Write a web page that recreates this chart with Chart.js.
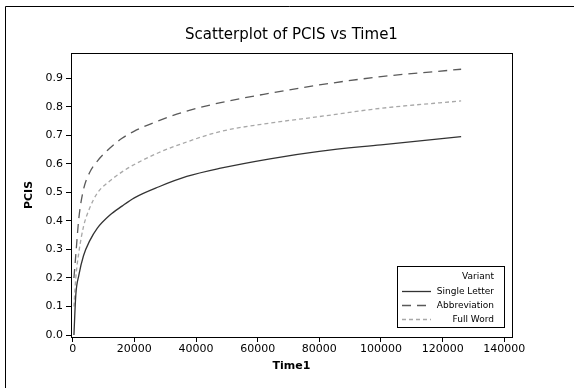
<!DOCTYPE html>
<html>
<head>
<meta charset="utf-8">
<script src="https://cdn.jsdelivr.net/npm/chart.js@4"></script>
<style>
  html, body { margin: 0; padding: 0; background: #fff; }
  #wrap { position: relative; width: 574px; height: 388px; }
</style>
</head>
<body>
<div id="wrap"><canvas id="myChart" width="574" height="388"></canvas></div>
<script>
// values
let time1 = [400, 1000, 2000, 3500, 5500, 8000, 12000, 16000, 20000, 28000, 37000, 48000, 64000, 80000, 100000, 126000];
let singleLetter = [0.0, 0.14, 0.21, 0.278, 0.33, 0.375, 0.42, 0.452, 0.481, 0.52, 0.556, 0.585, 0.618, 0.644, 0.667, 0.696];
let abbreviation = [0.2, 0.28, 0.41, 0.51, 0.57, 0.61, 0.655, 0.69, 0.715, 0.752, 0.785, 0.815, 0.848, 0.877, 0.906, 0.932];
let fullWord = [0.1, 0.2, 0.29, 0.38, 0.445, 0.498, 0.54, 0.572, 0.598, 0.64, 0.677, 0.714, 0.743, 0.766, 0.795, 0.821];

let xTicks = [0, 20000, 40000, 60000, 80000, 100000, 120000, 140000];
let yTicks = [0, 0.1, 0.2, 0.3, 0.4, 0.5, 0.6, 0.7, 0.8, 0.9];

const FONT = 'DejaVu Sans';

function pts(ys) {
    return time1.map((t, k) => ({ x: t, y: ys[k] }));
}

// frame, plot box and the legend box in the lower right
const extras = {
    id: 'extras',
    beforeDraw(chart) {
        const ctx = chart.ctx;
        ctx.save();
        ctx.fillStyle = '#fff';
        ctx.fillRect(0, 0, chart.width, chart.height);
        ctx.strokeStyle = '#000';
        ctx.lineWidth = 1;
        ctx.beginPath();
        ctx.moveTo(5.5, 388);
        ctx.lineTo(5.5, 6.5);
        ctx.lineTo(574, 6.5);
        ctx.stroke();
        ctx.restore();
    },
    afterDraw(chart) {
        const ctx = chart.ctx;
        const a = chart.chartArea;
        ctx.save();
        ctx.strokeStyle = '#000';
        ctx.lineWidth = 1;
        ctx.strokeRect(Math.round(a.left) + 0.5, Math.round(a.top) + 0.5,
            Math.round(a.right - a.left), Math.round(a.bottom - a.top));

        // legend
        const bx = 397, by = 266, bw = 107, bh = 61;
        ctx.fillStyle = '#fff';
        ctx.fillRect(bx, by, bw, bh);
        ctx.strokeRect(bx + 0.5, by + 0.5, bw, bh);
        ctx.fillStyle = '#000';
        ctx.font = '9px "' + FONT + '"';
        ctx.textAlign = 'right';
        ctx.textBaseline = 'middle';
        ctx.fillText('Variant', 494, 277);
        chart.data.datasets.forEach((ds, k) => {
            const y = 291.5 + k * 14;
            ctx.beginPath();
            ctx.strokeStyle = ds.borderColor;
            ctx.lineWidth = ds.borderWidth;
            ctx.setLineDash(ds.borderDash || []);
            ctx.moveTo(402, y);
            ctx.lineTo(431, y);
            ctx.stroke();
            ctx.setLineDash([]);
            ctx.fillStyle = '#000';
            ctx.fillText(ds.label, 494, y);
        });
        ctx.restore();
    }
};

const config = {
    type: 'scatter',
    data: {
        datasets: [{
            label: 'Single Letter',
            data: pts(singleLetter),
            borderColor: '#333333',
            borderWidth: 1.3,
            showLine: true,
            pointRadius: 0,
            cubicInterpolationMode: 'monotone'
        }, {
            label: 'Abbreviation',
            data: pts(abbreviation),
            borderColor: '#5a5a5a',
            borderWidth: 1.3,
            borderDash: [9, 6],
            showLine: true,
            pointRadius: 0,
            cubicInterpolationMode: 'monotone'
        }, {
            label: 'Full Word',
            data: pts(fullWord),
            borderColor: '#a8a8a8',
            borderWidth: 1.3,
            borderDash: [4, 3],
            showLine: true,
            pointRadius: 0,
            cubicInterpolationMode: 'monotone'
        }]
    },
    options: {
        responsive: false,
        animation: false,
        layout: { padding: { left: 0, top: 0, right: 62, bottom: 0 } },
        plugins: {
            legend: { display: false },
            tooltip: { enabled: false },
            title: {
                display: true,
                fullSize: false,
                text: 'Scatterplot of PCIS vs Time1',
                color: '#000',
                font: { family: FONT, size: 15, weight: 'normal', lineHeight: 1.2 },
                padding: { top: 26, bottom: 9 }
            }
        },
        scales: {
            x: {
                type: 'linear',
                min: -550,
                max: 142500,
                afterFit(s) { s.height = 51; },
                afterBuildTicks(s) { s.ticks = xTicks.map(v => ({ value: v })); },
                ticks: {
                    color: '#000',
                    font: { family: FONT, size: 11 },
                    padding: 1,
                    maxRotation: 0,
                    callback: v => String(v)
                },
                grid: { drawOnChartArea: false, drawTicks: true, tickLength: 5, color: '#000' },
                border: { display: true, color: '#000' },
                title: {
                    display: true,
                    text: 'Time1',
                    color: '#000',
                    font: { family: FONT, size: 11, weight: 'bold', lineHeight: 1.2 },
                    padding: { top: 0, bottom: 15 }
                }
            },
            y: {
                type: 'linear',
                min: -0.007,
                max: 0.989,
                afterFit(s) { s.width = 71; },
                afterBuildTicks(s) { s.ticks = yTicks.map(v => ({ value: v })); },
                ticks: {
                    color: '#000',
                    font: { family: FONT, size: 11 },
                    padding: 3,
                    callback: v => v.toFixed(1)
                },
                grid: { drawOnChartArea: false, drawTicks: true, tickLength: 5, color: '#000' },
                border: { display: true, color: '#000' },
                title: {
                    display: true,
                    text: 'PCIS',
                    color: '#000',
                    font: { family: FONT, size: 11, weight: 'bold', lineHeight: 1.2 },
                    padding: { top: 23, bottom: 0 }
                }
            }
        }
    },
    plugins: [extras]
};

const myChart = new Chart(document.getElementById('myChart'), config);
</script>
</body>
</html>
